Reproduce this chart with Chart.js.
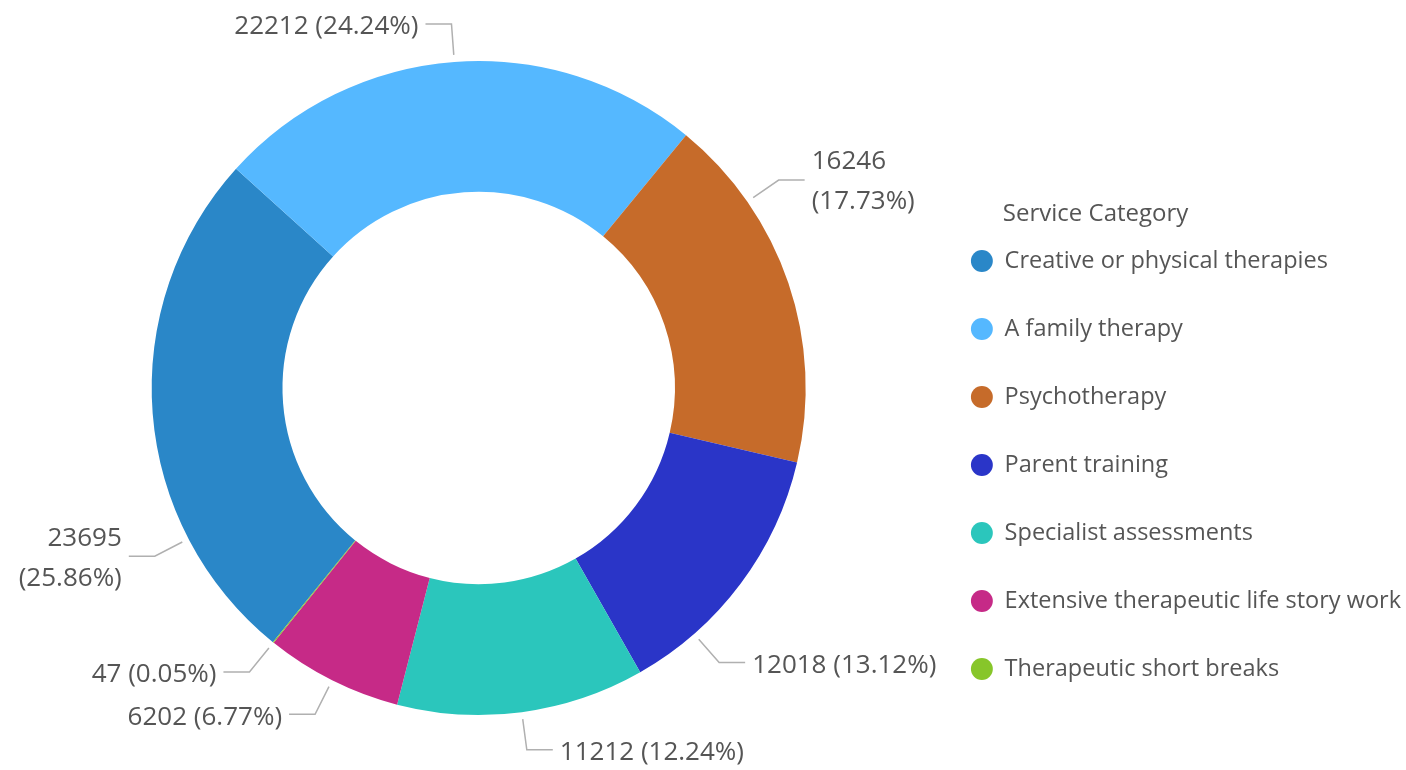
<!DOCTYPE html>
<html>
<head>
<meta charset="utf-8">
<script src="https://cdn.jsdelivr.net/npm/chart.js@4.4.1/dist/chart.umd.min.js"></script>
<style>
  html, body { margin: 0; padding: 0; background: #fff; }
  #wrap { width: 1406px; height: 770px; }
</style>
</head>
<body>
<div id="wrap"><canvas id="serviceChart" width="1406" height="770"></canvas></div>
<script>
var categories = ['Creative or physical therapies', 'A family therapy', 'Psychotherapy', 'Parent training',
    'Specialist assessments', 'Extensive therapeutic life story work', 'Therapeutic short breaks'];
var serviceCounts = [23695, 22212, 16246, 12018, 11212, 6202, 47];
var sliceColors = ['#2a87c8', '#55b8ff', '#c66b2a', '#2a35c8', '#2bc6bc', '#c62a87', '#87c62a'];

// outside labels with elbow leader lines, plus the legend heading
var calloutLabels = {
    id: 'calloutLabels',
    afterDatasetsDraw: function (chart, args, opts) {
        var ctx = chart.ctx;
        var data = chart.data.datasets[0].data;
        var total = data.reduce(function (a, b) { return a + b; }, 0);
        var boxes = chart.legend.legendHitBoxes;
        var rightLimit = boxes.length ? boxes[0].left : chart.width;
        ctx.save();
        ctx.font = opts.font;
        ctx.fillStyle = opts.color;
        ctx.textBaseline = 'middle';
        chart.getDatasetMeta(0).data.forEach(function (arc, i) {
            var p = arc.getProps(['x', 'y', 'startAngle', 'endAngle', 'outerRadius'], true);
            var a = (p.startAngle + p.endAngle) / 2 + (opts.nudge[i] || 0) * Math.PI / 180;
            var cos = Math.cos(a), sin = Math.sin(a);
            var r1 = p.outerRadius + 7, r2 = p.outerRadius + 38;
            var x1 = p.x + cos * r1, y1 = p.y + sin * r1;
            var x2 = p.x + cos * r2, y2 = p.y + sin * r2;
            var dir = cos >= 0 ? 1 : -1;
            var x3 = x2 + dir * 26;
            ctx.strokeStyle = opts.lineColor;
            ctx.lineWidth = 1.5;
            ctx.beginPath();
            ctx.moveTo(x1, y1);
            ctx.lineTo(x2, y2);
            ctx.lineTo(x3, y2);
            ctx.stroke();

            var pct = '(' + (data[i] / total * 100).toFixed(2) + '%)';
            var one = data[i] + ' ' + pct;
            var tx = x3 + dir * 7;
            var w = ctx.measureText(one).width;
            var fits = dir > 0 ? tx + w <= rightLimit : tx - w >= 0;
            ctx.textAlign = dir > 0 ? 'left' : 'right';
            if (fits) {
                ctx.fillText(one, tx, y2 + 3);
            } else {
                ctx.fillText(String(data[i]), tx, y2 - 18);
                ctx.fillText(pct, tx, y2 + 22);
            }
        });
        ctx.restore();
    },
    afterDraw: function (chart, args, opts) {
        var boxes = chart.legend.legendHitBoxes;
        if (!boxes.length) return;
        var ctx = chart.ctx;
        ctx.save();
        ctx.font = opts.titleFont;
        ctx.fillStyle = opts.color;
        ctx.textAlign = 'left';
        ctx.textBaseline = 'middle';
        ctx.fillText(opts.title, boxes[0].left + 22 + 12 - 2, boxes[0].top + 12 - 47);
        ctx.restore();
    }
};

document.addEventListener('DOMContentLoaded', function () {
    var ctx = document.getElementById('serviceChart').getContext('2d');
    new Chart(ctx, {
        type: 'doughnut',
        data: {
            labels: categories,
            datasets: [{
                data: serviceCounts,
                backgroundColor: sliceColors,
                borderWidth: 0,
                hoverBorderWidth: 0,
                hoverOffset: 0
            }]
        },
        plugins: [calloutLabels],
        options: {
            responsive: false,
            animation: false,
            rotation: 219,
            radius: 327,
            cutout: '60%',
            layout: { padding: { top: 6, bottom: 0, left: 31, right: -5 } },
            plugins: {
                tooltip: { enabled: false },
                legend: {
                    position: 'right',
                    align: 'start',
                    title: { display: true, text: '', font: { size: 24 }, padding: { top: 170, bottom: 0 } },
                    labels: {
                        usePointStyle: true,
                        pointStyle: 'circle',
                        boxWidth: 22,
                        boxHeight: 15.5,
                        padding: 44.5,
                        color: '#555555',
                        font: { family: 'Open Sans', size: 23.5 }
                    }
                },
                calloutLabels: {
                    font: '26px "Open Sans"',
                    titleFont: '24px "Open Sans"',
                    color: '#555555',
                    lineColor: '#b0b0b0',
                    title: 'Service Category',
                    nudge: [-23, 0, -16, 12, 0, 0, 0]
                }
            }
        }
    });
});
</script>
</body>
</html>
